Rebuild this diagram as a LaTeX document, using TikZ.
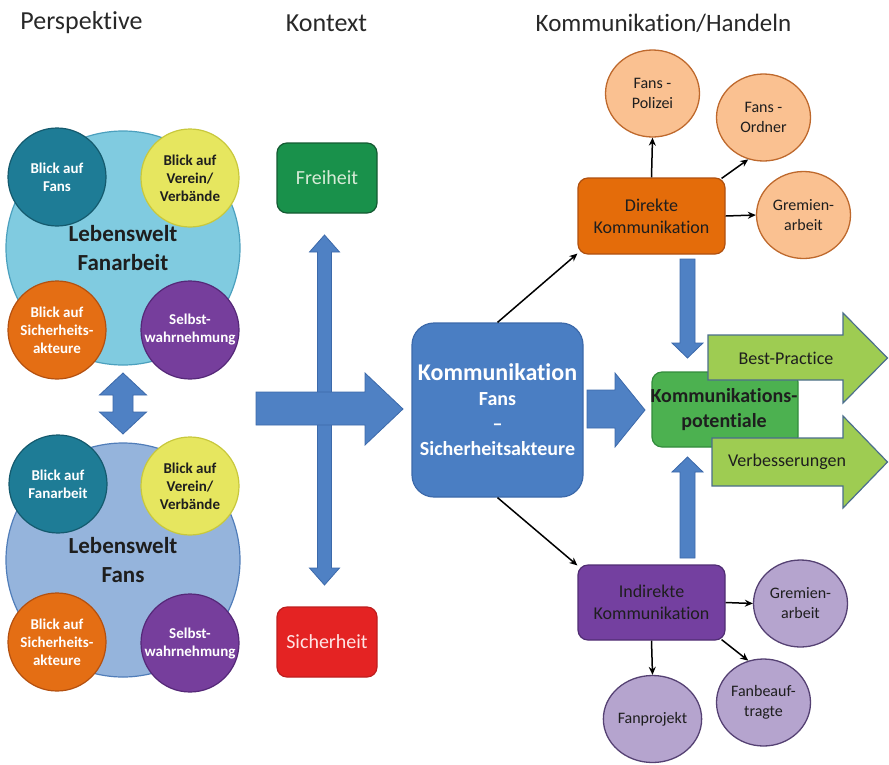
\documentclass[tikz,border=0pt]{standalone}
\usepackage{fontspec}
\setmainfont{Carlito}[Ligatures=NoCommon]
\usetikzlibrary{shapes.geometric,arrows.meta}
\definecolor{bigtop}{RGB}{128,203,224}\definecolor{bigtopE}{RGB}{75,160,190}
\definecolor{bigbot}{RGB}{149,180,220}\definecolor{bigbotE}{RGB}{80,125,185}
\definecolor{tealc}{RGB}{30,124,150}\definecolor{tealE}{RGB}{20,90,110}
\definecolor{yellowc}{RGB}{230,230,95}\definecolor{yellowE}{RGB}{200,200,60}
\definecolor{orangec}{RGB}{228,110,20}\definecolor{orangeE}{RGB}{180,80,15}
\definecolor{purplec}{RGB}{118,62,156}\definecolor{purpleE}{RGB}{85,40,120}
\definecolor{arrowblue}{RGB}{79,129,196}\definecolor{arrowblueE}{RGB}{60,105,170}
\definecolor{freiC}{RGB}{25,145,75}\definecolor{freiE}{RGB}{20,90,50}\definecolor{freiT}{RGB}{215,235,215}
\definecolor{sichC}{RGB}{228,35,35}\definecolor{sichE}{RGB}{190,30,30}\definecolor{sichT}{RGB}{255,228,228}
\definecolor{kommC}{RGB}{74,126,195}\definecolor{kommE}{RGB}{60,105,170}
\definecolor{direktC}{RGB}{228,108,10}\definecolor{direktE}{RGB}{175,80,15}
\definecolor{peachC}{RGB}{250,193,145}\definecolor{peachE}{RGB}{190,105,45}
\definecolor{indirektC}{RGB}{116,64,160}\definecolor{indirektE}{RGB}{80,45,115}
\definecolor{lavC}{RGB}{181,164,206}\definecolor{lavE}{RGB}{85,65,115}
\definecolor{kpC}{RGB}{76,177,80}\definecolor{kpE}{RGB}{50,140,60}
\definecolor{lgC}{RGB}{158,204,82}\definecolor{lgE}{RGB}{75,110,140}
\definecolor{txtdark}{RGB}{30,30,30}
\definecolor{titlegray}{RGB}{40,40,40}
\begin{document}
\begin{tikzpicture}[x=1pt,y=-1pt,
 smallc/.style={circle, minimum size=98pt, inner sep=0pt, draw, line width=1.2pt, align=center, font=\bfseries\fontsize{15}{18}\selectfont, text=white},
 bigc/.style={circle, minimum size=234pt, inner sep=0pt, draw, line width=1.2pt, align=center, font=\bfseries\fontsize{23}{29}\selectfont, text=txtdark},
 rbox/.style={rectangle, rounded corners=10pt, draw, line width=1.2pt, align=center, inner sep=0pt},
 ell/.style={ellipse, minimum width=94pt, minimum height=87pt, inner sep=0pt, draw, line width=1.3pt, align=center, font=\fontsize{16}{20}\selectfont, text=txtdark},
 blockarrow/.style={fill=arrowblue, draw=arrowblueE, line width=0.8pt, line join=miter},
 greenarrow/.style={fill=lgC, draw=lgE, line width=1.2pt},
 conn/.style={-{Stealth[length=8pt,width=7pt]}, line width=1.5pt, black},
 title/.style={font=\fontsize{26}{30}\selectfont, text=titlegray},
]
\useasboundingbox (0,0) rectangle (889,764);
% titles
\node[title] (t1) at (81.5,23) {Perspektive};
\node[title] (t2) at (326.5,23) {Kontext};
\node[title, font=\fontsize{25}{30}\selectfont] (t3) at (663.5,23) {Kommunikation/Handeln};

% top group
\node[bigc, fill=bigtop, draw=bigtopE] (lwfa) at (123,248) {Lebenswelt\\Fanarbeit};
\node[smallc, fill=tealc, draw=tealE] (c1) at (57,177) {Blick auf\\Fans};
\node[smallc, fill=yellowc, draw=yellowE, text=txtdark] (c2) at (190,178) {Blick auf\\Verein/\\Verbände};
\node[smallc, fill=orangec, draw=orangeE] (c3) at (57,330) {Blick auf\\Sicherheits-\\akteure};
\node[smallc, fill=purplec, draw=purpleE] (c4) at (190,330) {Selbst-\\wahrnehmung};

% bottom group
\node[bigc, fill=bigbot, draw=bigbotE] (lwf) at (123,560) {Lebenswelt\\Fans};
\node[smallc, fill=tealc, draw=tealE] (c5) at (58,484) {Blick auf\\Fanarbeit};
\node[smallc, fill=yellowc, draw=yellowE, text=txtdark] (c6) at (190,486) {Blick auf\\Verein/\\Verbände};
\node[smallc, fill=orangec, draw=orangeE] (c7) at (57,642) {Blick auf\\Sicherheits-\\akteure};
\node[smallc, fill=purplec, draw=purpleE] (c8) at (190,643) {Selbst-\\wahrnehmung};

% left double arrow
\draw[blockarrow] (123,373) -- (146.5,395) -- (133,395) -- (133,412) -- (146.5,412) -- (123,434)
  -- (99.5,412) -- (113,412) -- (113,395) -- (99.5,395) -- cycle;

% context
\node[rbox, fill=freiC, draw=freiE, minimum width=100pt, minimum height=70pt, text=freiT, font=\fontsize{20}{24}\selectfont] (frei) at (327,178) {Freiheit};
\node[rbox, fill=sichC, draw=sichE, minimum width=100pt, minimum height=70pt, text=sichT, font=\fontsize{20}{24}\selectfont] (sich) at (327,642) {Sicherheit};
\draw[blockarrow] (324.5,235) -- (339.5,252) -- (331.5,252) -- (331.5,568) -- (339.5,568) -- (324.5,585)
  -- (309.5,568) -- (317.5,568) -- (317.5,252) -- (309.5,252) -- cycle;
\draw[blockarrow] (256,392) -- (365,392) -- (365,373) -- (403,409) -- (365,445) -- (365,425) -- (256,425) -- cycle;

% center box
\node[rbox, rounded corners=22pt, fill=kommC, draw=kommE, minimum width=171pt, minimum height=174pt, text=white, font=\bfseries\fontsize{20}{25}\selectfont] (komm) at (497.5,410)
 {{\fontsize{24}{25}\selectfont Kommunikation}\\Fans\\–\\Sicherheitsakteure};

% direkte
\node[rbox, fill=direktC, draw=direktE, minimum width=147pt, minimum height=76pt, text=txtdark, font=\fontsize{18}{22}\selectfont] (direkt) at (651.5,216) {Direkte\\Kommunikation};
\node[ell, fill=peachC, draw=peachE] (polizei) at (652.5,93.5) {Fans -\\Polizei};
\node[ell, fill=peachC, draw=peachE] (ordner) at (763.5,117.5) {Fans -\\Ordner};
\node[ell, fill=peachC, draw=peachE] (gremA) at (803.5,215) {Gremien-\\arbeit};

% indirekte
\node[rbox, fill=indirektC, draw=indirektE, minimum width=147pt, minimum height=75pt, text=txtdark, font=\fontsize{18}{22}\selectfont] (indirekt) at (651.5,602.5) {Indirekte\\Kommunikation};
\node[ell, fill=lavC, draw=lavE] (gremB) at (800.5,603.5) {Gremien-\\arbeit};
\node[ell, fill=lavC, draw=lavE] (fanproj) at (652.5,719) {Fanprojekt};
\node[ell, fill=lavC, draw=lavE] (fanbeauf) at (763.5,702.5) {Fanbeauf-\\tragte};

% kommunikationspotentiale
\draw[blockarrow] (587,390) -- (615,390) -- (615,373) -- (645,410) -- (615,447) -- (615,428) -- (587,428) -- cycle;
\node[rbox, fill=kpC, draw=kpE, minimum width=146pt, minimum height=75pt] (kpbox) at (725,409.5) {};
\draw[blockarrow] (680,259) -- (695,259) -- (695,343) -- (703,343) -- (687.5,358) -- (672,343) -- (680,343) -- cycle;
\draw[blockarrow] (680,558) -- (695,558) -- (695,472) -- (703,472) -- (687.5,457) -- (672,472) -- (680,472) -- cycle;

% green arrows
\draw[greenarrow] (708,335) -- (843,335) -- (843,313) -- (887.5,358) -- (843,403) -- (843,380) -- (708,380) -- cycle;
\node[font=\fontsize{18}{22}\selectfont, text=txtdark] (bp) at (786,358) {Best-Practice};
\draw[greenarrow] (712,438) -- (843,438) -- (843,416) -- (887.5,462) -- (843,508) -- (843,486) -- (712,486) -- cycle;
\node[font=\fontsize{18}{22}\selectfont, text=txtdark] (vb) at (787,462) {Verbesserungen};

\node[font=\bfseries\fontsize{20}{25}\selectfont, text=txtdark, align=center] (kp) at (724,410) {Kommunikations-\\potentiale};

% connectors
\draw[conn] (komm.north) -- ([yshift=1pt]direkt.south west);
\draw[conn] (komm.south) -- ([yshift=-1pt]indirekt.north west);
\draw[conn] (direkt.north) -- (polizei.south);
\draw[conn] ([xshift=-4pt,yshift=-1pt]direkt.north east) -- (ordner.250);
\draw[conn] (direkt.east) -- (gremA.west);
\draw[conn] (indirekt.east) -- (gremB.west);
\draw[conn] (indirekt.south) -- (fanproj.north);
\draw[conn] ([xshift=-4pt,yshift=1pt]indirekt.south east) -- (fanbeauf.110);
\end{tikzpicture}
\end{document}
